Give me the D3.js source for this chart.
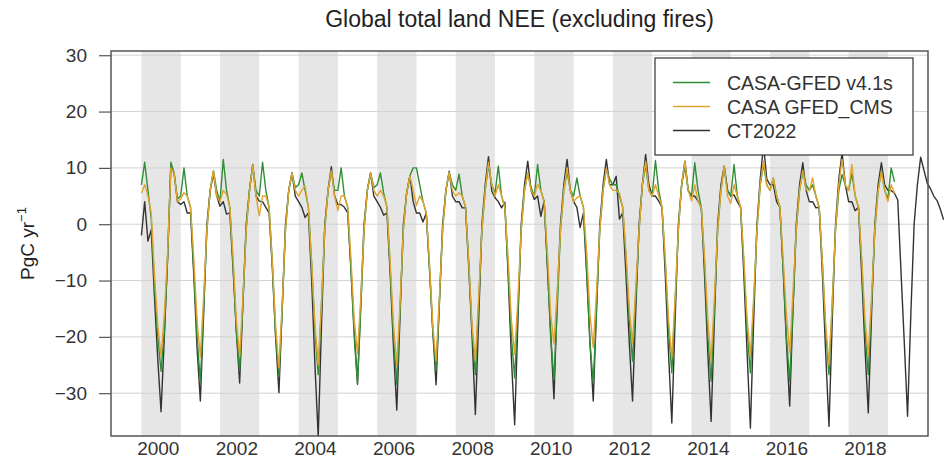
<!DOCTYPE html>
<meta charset="utf-8">
<script src="https://d3js.org/d3.v7.min.js"></script>
<style>
body { margin: 0; background: #fff; }
text { font-family: "Liberation Sans", Arial, Helvetica, sans-serif; fill: #222; }
.axis text { font-size: 19px; fill: #333; }
.axis line { stroke: #555; stroke-width: 1.2px; }
.axis path { display: none; }
path.series { fill: none; stroke-width: 1.4px; stroke-linejoin: round; }
</style>
<body>
<script>

// monthly values, one row per year (Jan..Dec), starting January 2000
var casaGfed = [
  [7, 11, 6, 1, -11, -20, -26.1, -19, -6, 11, 9, 4.5],
  [5, 10, 5, 3, -8, -20, -28, -15, -1, 6, 9.5, 6],
  [4, 11.5, 6, 3, -7, -19, -26, -14, -1, 6, 10.5, 6],
  [5, 11, 6, 3, -7, -20, -27, -15, -1, 6, 9.1, 6.5],
  [7, 9.1, 6, 3, -7, -19, -26.7, -14, -1, 6, 9.3, 6],
  [6, 10, 5, 3, -8, -20, -28.2, -15, -1, 6, 9.1, 6.5],
  [7, 9.1, 5.5, 3, -8, -20, -28.5, -15, -1, 5.5, 8.6, 10],
  [10, 7, 4, 2, -8, -19, -26, -14, -1, 6, 9.2, 7],
  [6, 8.9, 5, 3, -7, -19, -26.7, -14, -1, 6, 10.5, 7],
  [5.5, 10.3, 5, 3, -8, -20, -27.3, -15, -1, 6, 9.1, 6.5],
  [5, 10.6, 6, 4, -7, -20, -27.6, -15, -1, 6, 9.4, 6],
  [5, 8.2, 5, 3, -8, -21, -28.2, -15, -1, 6, 9.9, 8],
  [7, 7, 5, 3, -6, -17, -24.3, -13, -1, 7, 10.5, 6],
  [5, 11.3, 6, 3, -7, -19, -26.4, -14, -1, 7, 10.3, 6],
  [5, 10.9, 6, 3, -7, -20, -27.9, -15, -1, 6, 10.3, 6],
  [5, 10.6, 5, 3, -7, -19, -26.4, -14, -1, 7, 10.6, 7],
  [6, 8.2, 5, 3, -8, -20, -27.9, -15, -1, 6, 9.4, 7],
  [6, 7, 5, 3, -7, -19, -26.7, -14, -1, 6, 8.8, 7],
  [6, 9, 5, 3, -7, -19, -26.7, -14, -1, 6, 9.4, 6],
  [4.5, 10, 7.5]
];

var casaCms = [
  [5.5, 7, 5, 2, -9, -18, -23.4, -16, -5, 10, 9, 4],
  [4.5, 5.6, 5, 3, -6, -17, -23.5, -13, -1, 6, 9.5, 5],
  [4, 6, 5.3, 3, -6, -17, -23.5, -13, -1, 6, 10.5, 5],
  [1.5, 5, 5, 3, -7, -18, -25.5, -14, -1, 6, 9.1, 6],
  [5, 6, 6.8, 3, -7, -18, -25, -14, -1, 6, 9.5, 5],
  [2.4, 5, 5, 3, -6, -17, -23, -13, -1, 6, 9.1, 6],
  [5, 6, 5, 3, -7, -18, -25, -14, -1, 5.5, 8.6, 6],
  [3.3, 5, 4, 2, -7, -18, -24.3, -13, -1, 6, 9.2, 6],
  [5, 5.6, 5, 3, -7, -18, -24.3, -13, -1, 6, 11, 7],
  [5, 7, 5, 3, -6, -17, -23.1, -13, -1, 6, 9.1, 6],
  [5, 7.1, 5.9, 4, -5, -16, -21.3, -12, -1, 6, 10, 6],
  [4, 4.7, 5, 3, -5, -16, -21.9, -12, -1, 6, 9.9, 7],
  [6, 6, 5.5, 3, -5, -15, -21.1, -11, -1, 7, 11.2, 6],
  [5, 7, 5, 3, -6, -17, -23.7, -13, -1, 7, 11.2, 6],
  [4.1, 7, 4.1, 3, -6, -17, -24.3, -13, -1, 6, 10.3, 5],
  [3.7, 7, 5, 3, -6, -17, -23.2, -13, -1, 7, 11.2, 7],
  [6, 8.2, 5, 3, -6, -16, -22.8, -12, -1, 6, 9.5, 6],
  [6, 8.2, 5, 3, -7, -18, -25, -14, -1, 7, 11.5, 7],
  [6, 10.6, 5, 3, -6, -17, -23.2, -13, -1, 6, 9.4, 6],
  [4, 7, 5.5]
];

var ct2022 = [
  [-2, 4, -3, -1, -13, -24, -33.3, -20, -6, 10.5, 9, 4],
  [3.5, 4, 2, 2, -9, -22, -31.4, -16, 0, 6, 9, 5],
  [3.2, 4, 1.8, 2, -8, -19, -28.2, -14, 0, 6, 10.6, 5],
  [4.1, 4, 3, 2, -8, -20, -29.9, -15, 0, 6, 9.1, 5],
  [4, 3, 1.2, 2, -10, -25, -37.7, -18, 0, 6, 10.2, 5],
  [3.5, 3.5, 3, 2, -8, -19, -28.4, -14, 0, 6, 9.1, 5],
  [4, 3, 1.6, 2, -9, -22, -33, -16, 0, 5.5, 8.6, 4],
  [2, 2, 0.4, 2, -8, -19, -28.5, -14, 0, 6, 9.4, 5],
  [4, 4, 2.9, 2.9, -8, -20, -33.8, -17, 0, 7, 12, 5.9],
  [4.7, 4, 2.9, 3.9, -8.9, -23.7, -35.6, -17, 0, 7, 11.2, 6],
  [4.4, 5, 1.4, 4.2, -7.7, -19.3, -31, -13, 0, 7, 11.5, 6],
  [4, 3, -0.6, 2, -9, -21, -31.4, -15, 0, 7, 11.5, 7],
  [7, 8.5, 0.9, 2, -9, -21, -31.4, -15, 0, 7, 12.4, 7],
  [5, 5, 4.1, 3, -9, -23, -35.3, -17, 0, 7, 11.2, 6],
  [5, 5, 4.1, 3, -9, -23, -35, -17, 0, 7, 10.3, 6],
  [5, 5.2, 4, 3, -9, -23, -36.2, -17, 0, 8, 14.1, 8],
  [7, 7, 4, 3, -8, -21, -32.3, -15, 0, 7, 10.9, 6],
  [4, 4, 2.9, 3, -9, -23, -35.9, -17, 0, 8, 12.7, 7],
  [4, 4, 2.4, 3, -9, -22, -33.5, -16, 0, 7, 10.9, 7],
  [6, 6, 5.5, 4.3, -8.5, -21, -34.1, -16, 0, 7, 11.9, 9.6],
  [7.3, 6.3, 5.0, 4.2, 2.7, 0.8]
];

var seriesNames = ["CASA-GFED v4.1s", "CASA GFED_CMS", "CT2022"];
var seriesColors = ["#2f8f35", "#e0a430", "#333333"];
var yTicks = [-30, -20, -10, 0, 10, 20, 30];
var bandYears = [2000, 2002, 2004, 2006, 2008, 2010, 2012, 2014, 2016, 2018];
var labelYears = [2000, 2002, 2004, 2006, 2008, 2010, 2012, 2014, 2016, 2018];
var startYear = 2000;

function monthly(rows) {
  var out = [];
  rows.forEach(function(row, i) {
    row.forEach(function(v, m) {
      out.push({t: startYear + i + m / 12, v: v});
    });
  });
  return out;
}

var width = 944, height = 462;
var plotLeft = 111, plotRight = 928, plotTop = 51, plotBottom = 436;

var x = d3.scaleLinear().domain([1999.226, 2020.02]).range([plotLeft, plotRight]);
var y = d3.scaleLinear().domain([-37.6, 30.75]).range([plotBottom, plotTop]);

var svg = d3.select("body").append("svg")
    .attr("width", width)
    .attr("height", height);

svg.append("defs").append("clipPath").attr("id", "plotclip")
  .append("rect")
    .attr("x", plotLeft).attr("y", plotTop)
    .attr("width", width - plotLeft).attr("height", plotBottom - plotTop);

// alternating year shading
svg.append("g").selectAll("rect")
    .data(bandYears)
    .enter().append("rect")
    .attr("x", function(d) { return x(d); })
    .attr("width", function(d) { return x(d + 1) - x(d); })
    .attr("y", plotTop)
    .attr("height", plotBottom - plotTop)
    .attr("fill", "#e6e6e6");

// horizontal grid
svg.append("g").selectAll("line")
    .data(yTicks)
    .enter().append("line")
    .attr("x1", plotLeft).attr("x2", plotRight)
    .attr("y1", function(d) { return y(d); })
    .attr("y2", function(d) { return y(d); })
    .attr("stroke", "#d2d2d2")
    .attr("stroke-width", 1);

var line = d3.line()
    .x(function(d) { return x(d.t); })
    .y(function(d) { return y(d.v); });

var data = [monthly(casaGfed), monthly(casaCms), monthly(ct2022)];
var drawOrder = [2, 0, 1];

svg.append("g").attr("clip-path", "url(#plotclip)")
  .selectAll("path")
    .data(drawOrder)
    .enter().append("path")
    .attr("class", "series")
    .attr("stroke", function(i) { return seriesColors[i]; })
    .attr("d", function(i) { return line(data[i]); });

// plot box
svg.append("rect")
    .attr("x", plotLeft).attr("y", plotTop)
    .attr("width", plotRight - plotLeft).attr("height", plotBottom - plotTop)
    .attr("fill", "none")
    .attr("stroke", "#555")
    .attr("stroke-width", 1.5);

svg.append("g")
    .attr("class", "axis")
    .attr("transform", "translate(" + plotLeft + ",0)")
    .call(d3.axisLeft(y).tickValues(yTicks).tickSize(12).tickPadding(12)
      .tickFormat(function(d) { return d < 0 ? "\u2212" + (-d) : d; }));

svg.append("g")
    .attr("class", "axis")
    .attr("transform", "translate(0," + plotBottom + ")")
    .call(d3.axisBottom(x)
      .tickValues(labelYears.map(function(d) { return d + 5 / 12; }))
      .tickFormat(function(d) { return Math.floor(d); })
      .tickSize(0).tickPadding(6));

svg.append("text")
    .attr("x", (plotLeft + plotRight) / 2)
    .attr("y", 27)
    .attr("text-anchor", "middle")
    .style("font-size", "23px")
    .text("Global total land NEE (excluding fires)");

var ylab = svg.append("text")
    .attr("transform", "translate(34," + ((plotTop + plotBottom) / 2) + ") rotate(-90)")
    .attr("text-anchor", "middle")
    .style("font-size", "19px");
ylab.append("tspan").text("PgC yr");
ylab.append("tspan").attr("dy", -8).style("font-size", "13px").text("\u22121");

// legend
var legend = svg.append("g");
legend.append("rect")
    .attr("x", 655).attr("y", 58)
    .attr("width", 258).attr("height", 97)
    .attr("fill", "#fff")
    .attr("stroke", "#333")
    .attr("stroke-width", 1.2);

var rows = legend.selectAll("g.row")
    .data(seriesNames)
    .enter().append("g")
    .attr("class", "row")
    .attr("transform", function(d, i) { return "translate(0," + (82.5 + i * 24) + ")"; });

rows.append("line")
    .attr("x1", 673).attr("x2", 710)
    .attr("stroke", function(d, i) { return seriesColors[i]; })
    .attr("stroke-width", 1.5);

rows.append("text")
    .attr("x", 727)
    .attr("dy", "0.36em")
    .style("font-size", "19.5px")
    .style("fill", "#333")
    .text(function(d) { return d; });

</script>
</body>
